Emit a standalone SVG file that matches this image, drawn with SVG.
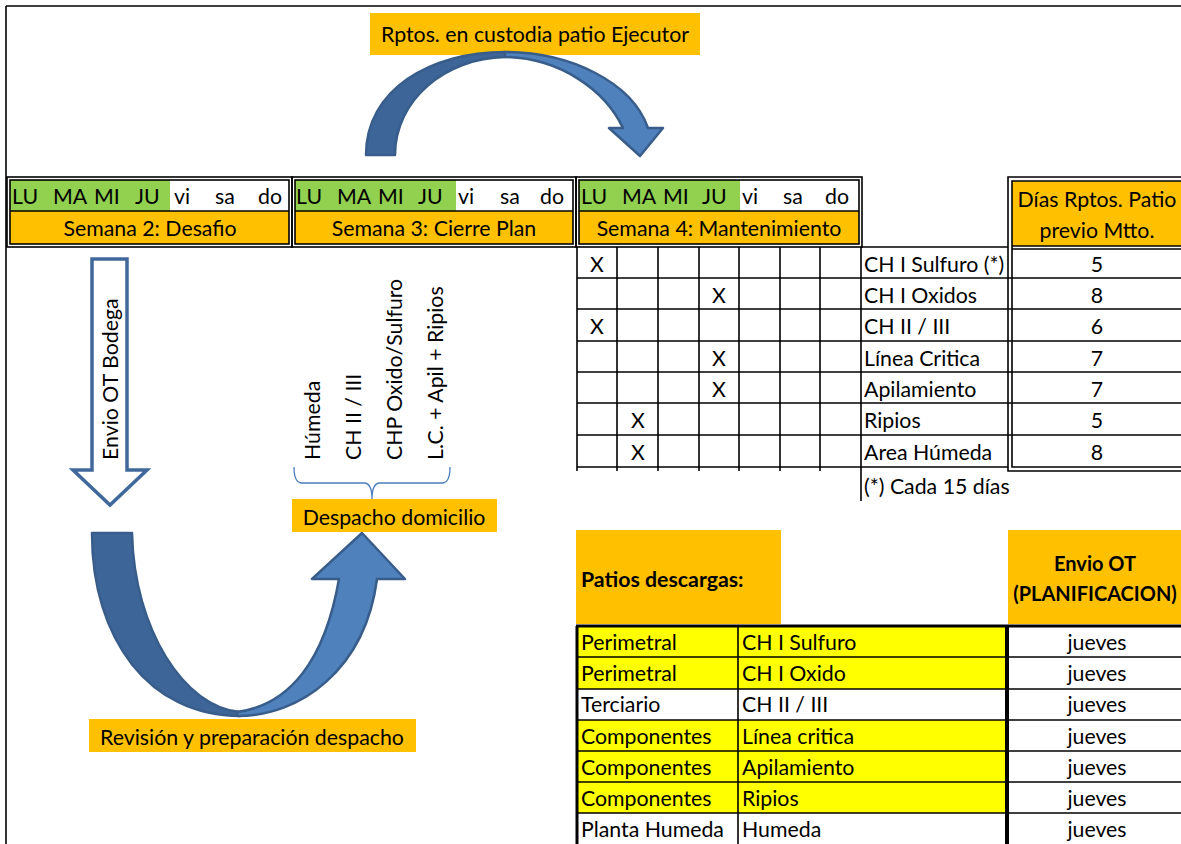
<svg xmlns="http://www.w3.org/2000/svg" width="1181" height="844" viewBox="0 0 1181 844">
<defs>
<style>
text{font-family:Lato,"Open Sans","Liberation Sans",sans-serif;font-size:21.3px;fill:#000}
.c{text-anchor:middle}
.b{font-weight:bold}
.hb{font-weight:bold;font-size:20px}
.ln{stroke:#000;stroke-width:1.6;fill:none}
.thk{stroke:#000;stroke-width:3;fill:none}
.org{fill:#FFC000}
.grn{fill:#92D050}
.yel{fill:#FFFF00}
.arrD{fill:#3E6598;stroke:#385D8A;stroke-width:2.5;stroke-linejoin:round}
.arrL{fill:#4F81BD;stroke:#385D8A;stroke-width:2.5;stroke-linejoin:round}
</style>
</defs>
<rect width="1181" height="844" fill="#fff"/>

<!-- outer frame -->
<g id="frame">
<line x1="6" y1="6" x2="1181" y2="6" class="ln" stroke-width="2"/>
<line x1="6" y1="6" x2="6" y2="844" class="ln" stroke-width="2"/>
</g>

<!-- top caption and curved arrow -->
<g id="custodia">
<rect x="370" y="13" width="330" height="42" class="org"/>
<text x="535" y="42" class="c">Rptos. en custodia patio Ejecutor</text>
</g>
<g id="arc-top">
<path class="arrD" d="M366,155 C366,90 430,52 505,52 L505,57 C445,58 395,100 395,155 Z"/>
<path class="arrL" d="M505,52 C570,52 632,82 648,128 L663,128 L640,156 L609,128 L623,128 C605,90 560,58 505,57 Z"/>
</g>

<!-- week blocks -->
<g id="week2">
<rect x="10" y="180" width="160" height="31" class="grn"/>
<rect x="10" y="211" width="279" height="33" class="org"/>
<rect x="7" y="177" width="285" height="70" class="ln"/>
<rect x="10" y="180" width="279" height="64" class="ln"/>
<line x1="10" y1="211" x2="289" y2="211" class="ln"/>
<text x="12" y="204">LU</text><text x="53" y="204">MA</text><text x="94" y="204">MI</text><text x="135" y="204">JU</text>
<text x="174" y="204">vi</text><text x="215" y="204">sa</text><text x="258" y="204">do</text>
<text x="150" y="236" class="c">Semana 2: Desafio</text>
</g>
<g id="week3">
<rect x="295" y="180" width="161" height="31" class="grn"/>
<rect x="295" y="211" width="278" height="33" class="org"/>
<rect x="292" y="177" width="284" height="70" class="ln"/>
<rect x="295" y="180" width="278" height="64" class="ln"/>
<line x1="295" y1="211" x2="573" y2="211" class="ln"/>
<text x="296" y="204">LU</text><text x="337" y="204">MA</text><text x="378" y="204">MI</text><text x="418" y="204">JU</text>
<text x="458" y="204">vi</text><text x="500" y="204">sa</text><text x="540" y="204">do</text>
<text x="434" y="236" class="c">Semana 3: Cierre Plan</text>
</g>
<g id="week4">
<rect x="579" y="180" width="161" height="31" class="grn"/>
<rect x="579" y="211" width="280" height="33" class="org"/>
<rect x="576" y="177" width="286" height="70" class="ln"/>
<rect x="579" y="180" width="280" height="64" class="ln"/>
<line x1="579" y1="211" x2="859" y2="211" class="ln"/>
<text x="581" y="204">LU</text><text x="622" y="204">MA</text><text x="663" y="204">MI</text><text x="702" y="204">JU</text>
<text x="742" y="204">vi</text><text x="783" y="204">sa</text><text x="825" y="204">do</text>
<text x="719" y="236" class="c">Semana 4: Mantenimiento</text>
</g>

<!-- maintenance grid -->
<g id="grid">
<g class="ln">
<line x1="577" y1="247" x2="577" y2="471"/>
<line x1="617" y1="247" x2="617" y2="471"/>
<line x1="658" y1="247" x2="658" y2="471"/>
<line x1="699" y1="247" x2="699" y2="471"/>
<line x1="739" y1="247" x2="739" y2="471"/>
<line x1="780" y1="247" x2="780" y2="471"/>
<line x1="820" y1="247" x2="820" y2="471"/>
<line x1="861" y1="247" x2="861" y2="501"/>
<line x1="577" y1="278" x2="1181" y2="278"/>
<line x1="577" y1="309" x2="1181" y2="309"/>
<line x1="577" y1="341" x2="1181" y2="341"/>
<line x1="577" y1="372" x2="1181" y2="372"/>
<line x1="577" y1="403" x2="1181" y2="403"/>
<line x1="577" y1="435" x2="1181" y2="435"/>
<line x1="577" y1="467" x2="1008" y2="467"/>
<line x1="861" y1="247" x2="1008" y2="247"/>
</g>
<text x="597" y="272" class="c">X</text>
<text x="719" y="303" class="c">X</text>
<text x="597" y="334" class="c">X</text>
<text x="719" y="366" class="c">X</text>
<text x="719" y="397" class="c">X</text>
<text x="638" y="428" class="c">X</text>
<text x="638" y="460" class="c">X</text>
<text x="864" y="272">CH I Sulfuro (*)</text>
<text x="864" y="303">CH I Oxidos</text>
<text x="864" y="334">CH II / III</text>
<text x="864" y="366">Línea Critica</text>
<text x="864" y="397">Apilamiento</text>
<text x="864" y="428">Ripios</text>
<text x="864" y="460">Area Húmeda</text>
<text x="864" y="494">(*) Cada 15 días</text>
</g>

<!-- lead-time column -->
<g id="dias">
<rect x="1012" y="181" width="169" height="65" class="org"/>
<g class="ln">
<path d="M1181,177 H1008 V471 H1181"/>
<path d="M1181,181 H1012 V467 H1181"/>
<line x1="1012" y1="246" x2="1181" y2="246"/>
<line x1="1012" y1="249" x2="1181" y2="249"/>
</g>
<text x="1097" y="207" class="c">Días Rptos. Patio</text>
<text x="1097" y="238" class="c">previo Mtto.</text>
<text x="1097" y="272" class="c">5</text>
<text x="1097" y="303" class="c">8</text>
<text x="1097" y="334" class="c">6</text>
<text x="1097" y="366" class="c">7</text>
<text x="1097" y="397" class="c">7</text>
<text x="1097" y="428" class="c">5</text>
<text x="1097" y="460" class="c">8</text>
</g>

<!-- send-to-warehouse arrow -->
<g id="envio-bodega">
<path d="M92,259 L127,259 L127,470 L147,470 L110,505 L73,470 L92,470 Z" fill="#fff" stroke="#41689B" stroke-width="3.5" stroke-linejoin="miter"/>
<text transform="translate(118,460) rotate(-90)">Envio OT Bodega</text>
</g>

<!-- dispatch groups -->
<g id="grupos">
<text transform="translate(320,460) rotate(-90)">Húmeda</text>
<text transform="translate(361,460) rotate(-90)">CH II / III</text>
<text transform="translate(402,460) rotate(-90)">CHP Oxido/Sulfuro</text>
<text transform="translate(443,460) rotate(-90)">L.C. + Apil + Ripios</text>
<path d="M294,467 Q294,483 302,483 L364,483 Q372,483 372,499 Q372,483 380,483 L442,483 Q450,483 450,467" fill="none" stroke="#4A7EBB" stroke-width="1.3"/>
</g>
<g id="despacho">
<rect x="292" y="499" width="205" height="33" class="org"/>
<text x="394" y="525" class="c">Despacho domicilio</text>
</g>

<!-- U-turn arrow -->
<g id="arc-u">
<path class="arrD" d="M92,533 L132,533 C134,630 185,708 240,712 L240,716 C150,716 92,640 92,533 Z"/>
<path class="arrL" d="M238,716 C300,716 365,670 377,579 L405,579 L362,533 L312,579 L339,579 C325,660 290,705 237,712 Z"/>
</g>
<g id="revision">
<rect x="89" y="719" width="327" height="33" class="org"/>
<text x="252" y="745" class="c">Revisión y preparación despacho</text>
</g>

<!-- discharge yards table -->
<g id="patios">
<rect x="576" y="530" width="205" height="94" class="org"/>
<rect x="1008" y="530" width="173" height="94" class="org"/>
<text x="581" y="587" class="b">Patios descargas:</text>
<text x="1095" y="571" class="c hb">Envio OT</text>
<text x="1095" y="601" class="c hb">(PLANIFICACION)</text>
<g class="yel">
<rect x="578" y="627" width="428" height="30"/>
<rect x="578" y="657" width="428" height="32"/>
<rect x="578" y="720" width="428" height="31"/>
<rect x="578" y="751" width="428" height="31"/>
<rect x="578" y="782" width="428" height="31"/>
</g>
<g class="ln">
<line x1="577" y1="657" x2="1181" y2="657"/>
<line x1="577" y1="689" x2="1181" y2="689"/>
<line x1="577" y1="720" x2="1181" y2="720"/>
<line x1="577" y1="751" x2="1181" y2="751"/>
<line x1="577" y1="782" x2="1181" y2="782"/>
<line x1="577" y1="813" x2="1181" y2="813"/>
<line x1="738" y1="627" x2="738" y2="844"/>
</g>
<g class="thk">
<line x1="576" y1="626" x2="1181" y2="626"/>
<line x1="577" y1="626" x2="577" y2="844"/>
<line x1="1007" y1="626" x2="1007" y2="844" stroke-width="4"/>
</g>
<text x="581" y="650">Perimetral</text><text x="742" y="650">CH I Sulfuro</text><text x="1097" y="650" class="c">jueves</text>
<text x="581" y="681">Perimetral</text><text x="742" y="681">CH I Oxido</text><text x="1097" y="681" class="c">jueves</text>
<text x="581" y="712">Terciario</text><text x="742" y="712">CH II / III</text><text x="1097" y="712" class="c">jueves</text>
<text x="581" y="744">Componentes</text><text x="742" y="744">Línea critica</text><text x="1097" y="744" class="c">jueves</text>
<text x="581" y="775">Componentes</text><text x="742" y="775">Apilamiento</text><text x="1097" y="775" class="c">jueves</text>
<text x="581" y="806">Componentes</text><text x="742" y="806">Ripios</text><text x="1097" y="806" class="c">jueves</text>
<text x="581" y="837">Planta Humeda</text><text x="742" y="837">Humeda</text><text x="1097" y="837" class="c">jueves</text>
</g>
</svg>
